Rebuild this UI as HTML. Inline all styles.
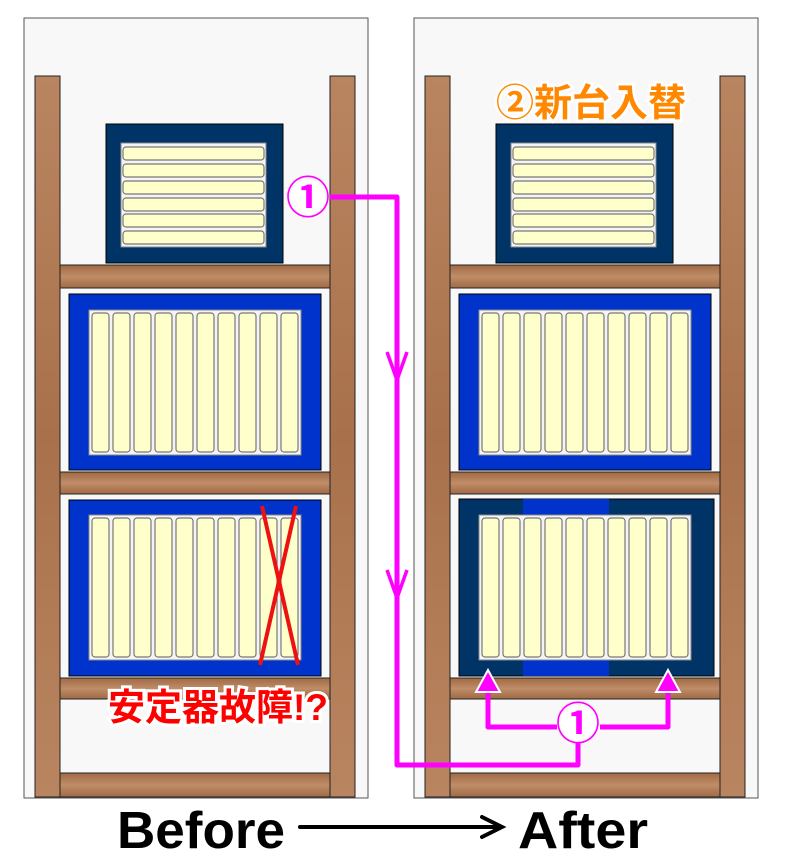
<!DOCTYPE html>
<html><head><meta charset="utf-8"><style>
html,body{margin:0;padding:0;background:#fff;}
svg{display:block;}
text{font-family:"Liberation Sans","Noto Sans CJK JP",sans-serif;font-weight:bold;}
</style></head><body>
<svg width="787" height="862" viewBox="0 0 787 862" xmlns="http://www.w3.org/2000/svg">
<defs>
<linearGradient id="wv" x1="0" y1="0" x2="0" y2="1">
<stop offset="0" stop-color="#b98560"/><stop offset="0.5" stop-color="#a8714b"/><stop offset="1" stop-color="#b98560"/>
</linearGradient>
<linearGradient id="wh" x1="0" y1="0" x2="0" y2="1">
<stop offset="0" stop-color="#a06a44"/><stop offset="0.5" stop-color="#bf8d68"/><stop offset="1" stop-color="#a06a44"/>
</linearGradient>
<g id="vbars">
<rect x="0" y="0" width="212" height="145" fill="#f4f4f4" stroke="#888" stroke-width="1"/>
<g fill="#ffffcc" stroke="#777" stroke-width="1.2">
<rect x="3" y="3" width="17" height="139" rx="3"/><rect x="24" y="3" width="17" height="139" rx="3"/>
<rect x="45" y="3" width="17" height="139" rx="3"/><rect x="66" y="3" width="17" height="139" rx="3"/>
<rect x="87" y="3" width="17" height="139" rx="3"/><rect x="108" y="3" width="17" height="139" rx="3"/>
<rect x="129" y="3" width="17" height="139" rx="3"/><rect x="150" y="3" width="17" height="139" rx="3"/>
<rect x="171" y="3" width="17" height="139" rx="3"/><rect x="192" y="3" width="17" height="139" rx="3"/>
</g></g>
<g id="top">
<rect x="106" y="124" width="177" height="139" fill="#003366" stroke="#000"/>
<rect x="121" y="143" width="145" height="104" fill="#f4f4f4" stroke="#888"/>
<g fill="#ffffcc" stroke="#777" stroke-width="1.2">
<rect x="123" y="147" width="141" height="13" rx="3"/><rect x="123" y="164" width="141" height="13" rx="3"/>
<rect x="123" y="181" width="141" height="13" rx="3"/><rect x="123" y="198" width="141" height="13" rx="3"/>
<rect x="123" y="214" width="141" height="13" rx="3"/><rect x="123" y="231" width="141" height="13" rx="3"/>
</g></g>
<g id="frame">
<rect x="24" y="18" width="344" height="780" fill="#f8f8f8" stroke="#555"/>
<rect x="35" y="76" width="25" height="721" fill="url(#wv)" stroke="#222"/>
<rect x="330" y="76" width="25" height="721" fill="url(#wv)" stroke="#222"/>
<rect x="60" y="265" width="270" height="23" fill="url(#wh)" stroke="#222"/>
<rect x="60" y="472" width="270" height="22" fill="url(#wh)" stroke="#222"/>
<rect x="60" y="678" width="270" height="21" fill="url(#wh)" stroke="#222"/>
<rect x="60" y="773" width="270" height="24" fill="url(#wh)" stroke="#222"/>
<use href="#top"/>
<rect x="69" y="294" width="252" height="176" fill="#0033cc" stroke="#000"/>
<use href="#vbars" x="89" y="310"/>
</g>
</defs>

<use href="#frame"/>
<rect x="69" y="500" width="252" height="176" fill="#0033cc" stroke="#000"/>
<use href="#vbars" x="89" y="515"/>
<g stroke="#ee1111" stroke-width="4" fill="none"><line x1="262" y1="506" x2="298" y2="665"/><line x1="296" y1="506" x2="260" y2="665"/></g>

<g transform="translate(390,0)"><use href="#frame"/></g>
<rect x="459" y="499" width="255" height="177" fill="#003366" stroke="#000"/>
<rect x="523" y="499" width="86" height="177" fill="#0033cc"/>
<use href="#vbars" x="479" y="515"/>

<text x="496" y="116" font-size="38" fill="#ff8800" stroke="#fff" stroke-width="5" paint-order="stroke">②新台入替</text>
<text x="108" y="720" font-size="37" fill="#ff0000" stroke="#fff" stroke-width="6" paint-order="stroke">安定器故障!?</text>

<g stroke="#ff00ff" stroke-width="5" fill="none" stroke-linejoin="round">
<polyline points="330,197 397,197 397,765 578,765 578,743"/>
<polyline points="557,727 488,727 488,688"/>
<polyline points="600,727 668,727 668,688"/>
<polyline points="387,352 397,380 407,352" stroke-width="3.5"/>
<polyline points="387,570 397,598 407,570" stroke-width="3.5"/>
</g>
<g fill="#ff00ff" stroke="#fff" stroke-width="2">
<polygon points="488,670 476,692 500,692"/>
<polygon points="668,670 656,692 680,692"/>
</g>
<g fill="#fff"><circle cx="308" cy="198" r="18"/><circle cx="578" cy="724" r="18"/></g>
<text x="308" y="213" font-size="44" fill="#ff00ff" text-anchor="middle">①</text>
<text x="578" y="739" font-size="44" fill="#ff00ff" text-anchor="middle">①</text>

<text x="117" y="848" font-size="52" fill="#000" textLength="168" lengthAdjust="spacingAndGlyphs">Before</text>
<text x="518" y="848" font-size="52" fill="#000" textLength="130" lengthAdjust="spacingAndGlyphs">After</text>
<line x1="300" y1="827" x2="500" y2="827" stroke="#000" stroke-width="4" stroke-linecap="round"/>
<polyline points="482,817 502,827 482,837" stroke="#000" stroke-width="4" fill="none" stroke-linecap="round"/>
</svg>
</body></html>
